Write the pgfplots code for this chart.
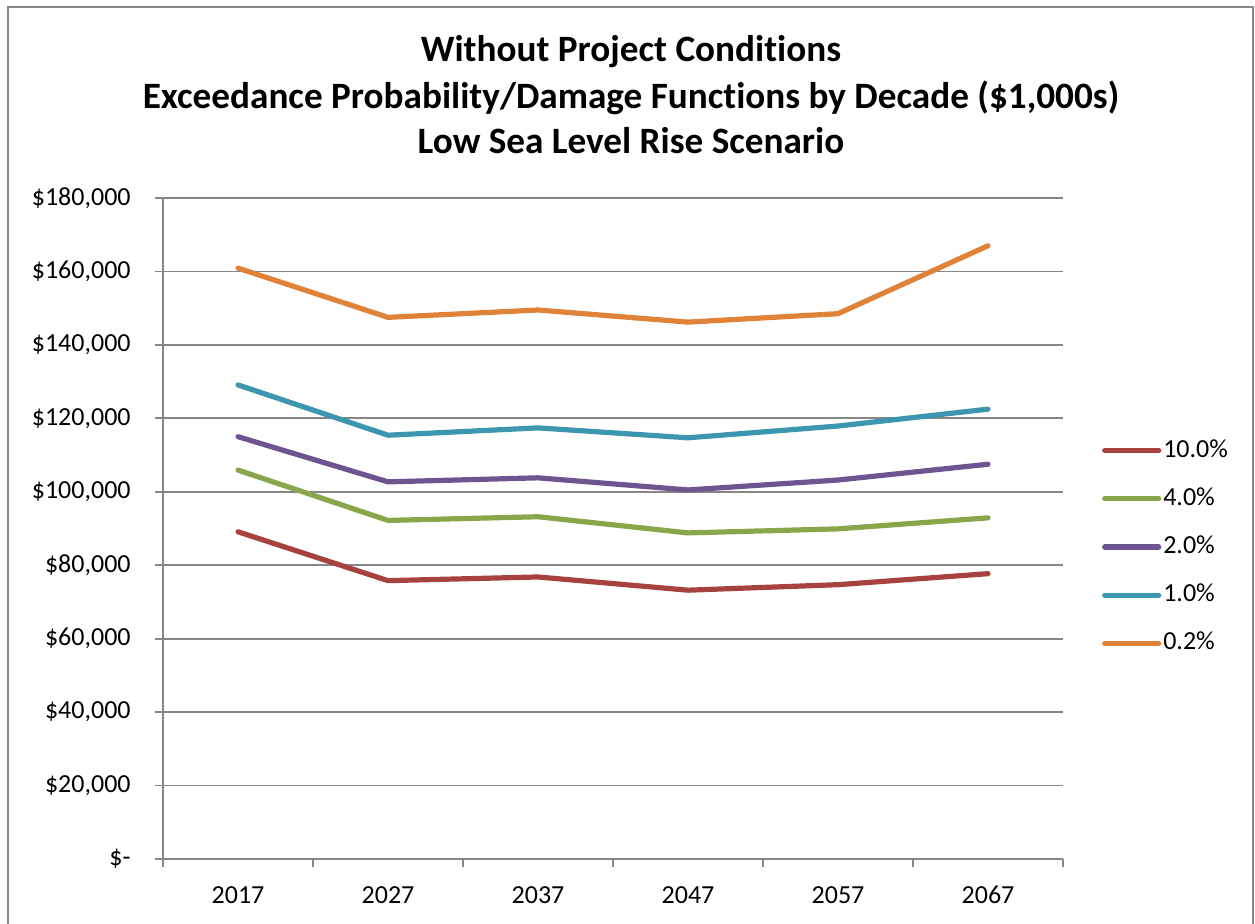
\documentclass[border=0pt]{standalone}
\usepackage{fontspec}
\setmainfont{Carlito}[Ligatures=NoCommon]
\usepackage{pgfplots}
\pgfplotsset{compat=1.18}
\definecolor{gridgray}{RGB}{134,134,134}
\definecolor{borderg}{RGB}{136,136,136}
\definecolor{cRed}{RGB}{168,66,63}
\definecolor{cGreen}{RGB}{137,166,74}
\definecolor{cPurple}{RGB}{110,84,145}
\definecolor{cTeal}{RGB}{61,150,176}
\definecolor{cOrange}{RGB}{224,130,56}
\begin{document}
\begin{tikzpicture}
\path[use as bounding box] (0,0) rectangle (627.5pt,-462pt);
\draw[borderg, line width=1pt] (4pt,-463pt) -- (4pt,-3.5pt) -- (626.5pt,-3.5pt) -- (626.5pt,-463pt);
\node[anchor=base, font=\fontsize{18.6}{22}\selectfont\bfseries, inner sep=0pt] at (315.5pt,-31pt) {Without Project Conditions};
\node[anchor=base, font=\fontsize{18.6}{22}\selectfont\bfseries, inner sep=0pt] at (315.5pt,-54.5pt) {Exceedance Probability/Damage Functions by Decade (\$1,000s)};
\node[anchor=base, font=\fontsize{18.6}{22}\selectfont\bfseries, inner sep=0pt] at (315.5pt,-77pt) {Low Sea Level Rise Scenario};
\begin{axis}[
  at={(81.5pt,-429.5pt)}, anchor=south west,
  scale only axis, width=450pt, height=330.5pt,
  xmin=-0.5, xmax=5.5, ymin=0, ymax=180000,
  scaled y ticks=false,
  axis x line*=bottom, axis y line*=left,
  axis line style={draw=gridgray, line width=0.9pt},
  tick align=outside,
  major tick length=4pt,
  tick style={draw=gridgray, line width=0.9pt},
  xtick={-0.5,0.5,1.5,2.5,3.5,4.5,5.5},
  x tick label as interval,
  xticklabels={2017,2027,2037,2047,2057,2067},
  ytick={0,20000,40000,60000,80000,100000,120000,140000,160000,180000},
  yticklabels={{\$-},{\$20,000},{\$40,000},{\$60,000},{\$80,000},{\$100,000},{\$120,000},{\$140,000},{\$160,000},{\$180,000}},
  ymajorgrids,
  major grid style={draw=gridgray, line width=0.9pt},
  tick label style={font=\fontsize{13}{15}\selectfont, inner sep=0pt},
  yticklabel style={anchor=east, xshift=-12pt},
  xticklabel style={anchor=north, yshift=-9.5pt},
  legend style={at={(1.043,0.472)}, anchor=west, draw=none, fill=none, inner sep=0pt,
    font=\fontsize{13}{15}\selectfont, row sep=10.5pt,
    nodes={inner sep=1pt, text height=9pt, text depth=2.6pt}},
  legend cell align=left,
  legend image code/.code={\draw[#1, line cap=round] (0pt,0pt) -- (27pt,0pt);},
  every axis plot/.append style={line width=2.6pt, line join=round, line cap=round, mark=none},
]
\addplot[cRed] coordinates {(0,89100) (1,75800) (2,76800) (3,73200) (4,74700) (5,77700)};
\addlegendentry{10.0\%}
\addplot[cGreen] coordinates {(0,105900) (1,92200) (2,93200) (3,88800) (4,89900) (5,92900)};
\addlegendentry{4.0\%}
\addplot[cPurple] coordinates {(0,115000) (1,102700) (2,103800) (3,100500) (4,103200) (5,107500)};
\addlegendentry{2.0\%}
\addplot[cTeal] coordinates {(0,129100) (1,115400) (2,117400) (3,114700) (4,117900) (5,122500)};
\addlegendentry{1.0\%}
\addplot[cOrange] coordinates {(0,160900) (1,147500) (2,149500) (3,146200) (4,148500) (5,167000)};
\addlegendentry{0.2\%}
\end{axis}
\end{tikzpicture}
\end{document}
